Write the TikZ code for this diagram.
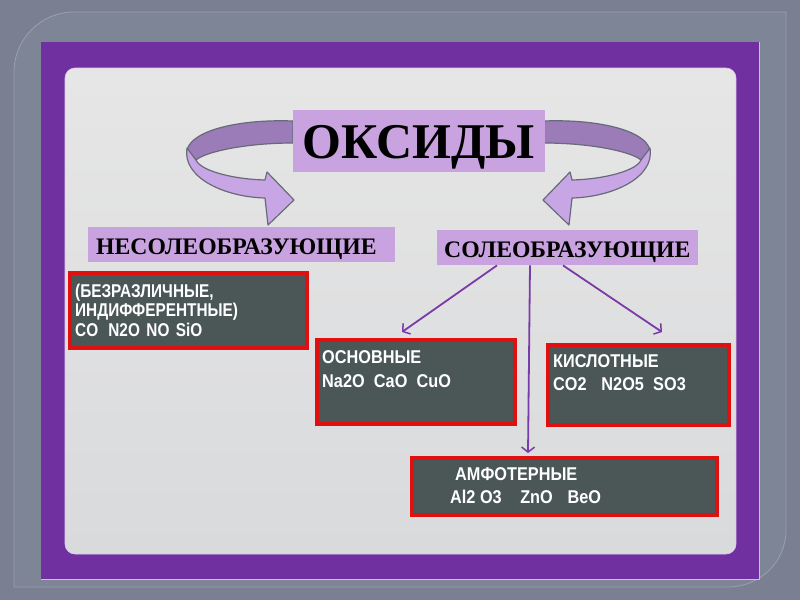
\documentclass[tikz,border=0pt]{standalone}
\usepackage{fontspec}
\setmainfont{Liberation Serif}
\setsansfont{Liberation Sans}
\usetikzlibrary{arrows.meta}
\definecolor{bggray}{HTML}{7A8091}
\definecolor{framegray}{HTML}{7E8596}
\definecolor{frameline}{HTML}{9AA0AE}
\definecolor{violetframe}{HTML}{7030A0}
\definecolor{paneltop}{HTML}{E6E6E6}
\definecolor{panelbot}{HTML}{D9DADC}
\definecolor{lavender}{HTML}{C9A2E0}
\definecolor{banddark}{HTML}{9C7CB8}
\definecolor{bandlight}{HTML}{C8A6E6}
\definecolor{bandline}{HTML}{676A78}
\definecolor{slate}{HTML}{4B5757}
\definecolor{redline}{HTML}{E01010}
\definecolor{connviolet}{HTML}{7A3AA8}
\tikzset{
  titlebox/.style={fill=lavender, inner sep=0pt, anchor=north west},
  catbox/.style={fill=lavender, inner sep=0pt, anchor=north west},
  darkbox/.style={fill=slate, draw=redline, line width=3.8pt, inner sep=0pt, anchor=north west},
  whitetxt/.style={text=white, font=\sffamily\bfseries\fontsize{18.5}{20}\selectfont\addfontfeature{FakeStretch=0.88}, anchor=base west, inner sep=0pt},
  whitenarrow/.style={text=white, font=\sffamily\bfseries\fontsize{18.5}{20}\selectfont\addfontfeature{FakeStretch=0.83}, anchor=base west, inner sep=0pt},
  cattxt/.style={text=black, font=\bfseries\fontsize{23.7}{24}\selectfont, anchor=base west, inner sep=0pt},
  conn/.style={draw=connviolet, line width=1.8pt, -{Straight Barb[length=5pt,width=13pt,line width=1.5pt]}},
  bandback/.style={fill=banddark, draw=bandline, line width=1.2pt, line join=round},
  bandfront/.style={fill=bandlight, draw=bandline, line width=1.2pt, line join=round}
}
\newcommand{\curlarrow}{%
  \path[bandback] (293,121) .. controls (240,119) and (192,130) .. (187,150)
     -- (196,160) .. controls (205,152) and (245,143) .. (293,143) -- cycle;
  \path[bandfront] (187,148) .. controls (182,178) and (225,197) .. (265,198)
     -- (268,225) -- (294,200) -- (267,172) -- (265,180)
     .. controls (230,179) and (200,170) .. (196,160) -- cycle;
}
\begin{document}
\begin{tikzpicture}[x=1pt,y=-1pt]
\useasboundingbox (0,0) rectangle (800,600);
\fill[bggray] (0,0) rectangle (800,600);
\filldraw[fill=framegray, draw=frameline, line width=0.8pt]
  (14,587) -- (14,72) .. controls (14,39) and (41,12) .. (74,12) -- (786,12)
  -- (786,530) .. controls (786,562) and (760,587) .. (728,587) -- cycle;
\fill[violetframe] (41,42) rectangle (759,579);
\draw[frameline!60!white, line width=0.8pt] (41,579) -- (759,579) -- (759,42);
\shade[top color=paneltop, bottom color=panelbot, rounded corners=10pt]
  (65,68) rectangle (736,554);
\draw[rounded corners=10pt, draw=lavender!60!white, line width=0.6pt] (65,68) rectangle (736,554);

% curled arrows
\curlarrow
\begin{scope}[shift={(837,0)}, xscale=-1]
\curlarrow
\end{scope}

% title
\node[titlebox, minimum width=252pt, minimum height=62pt] (title) at (293,110) {};
\node[text=black, font=\bfseries\fontsize{50}{50}\selectfont, anchor=base west, inner sep=0pt] (titletxt) at (302,158) {ОКСИДЫ};

% categories
\node[catbox, minimum width=307pt, minimum height=35pt] (nesole) at (88,227) {};
\node[cattxt] (nesoletxt) at (96,254) {НЕСОЛЕОБРАЗУЮЩИЕ};
\node[catbox, minimum width=261pt, minimum height=35pt] (sole) at (437,230) {};
\node[cattxt] (soletxt) at (444,257) {СОЛЕОБРАЗУЮЩИЕ};

% dark boxes
\node[darkbox, minimum width=237pt, minimum height=75pt] (indiff) at (68,271) {};
\node[whitenarrow] (indiff1) at (75,297) {(БЕЗРАЗЛИЧНЫЕ,};
\node[whitenarrow] (indiff2) at (75,316.5) {ИНДИФФЕРЕНТНЫЕ)};
\node[whitenarrow] (indiff3) at (75,336.5) {CO\hspace{0.55em}N2O\hspace{0.35em}NO\hspace{0.35em}SiO};

\node[darkbox, minimum width=198pt, minimum height=84pt] (osn) at (315,338) {};
\node[whitetxt] (osn1) at (322,363) {ОСНОВНЫЕ};
\node[whitetxt] (osn2) at (322,387) {Na2O\hspace{0.5em}CaO\hspace{0.5em}CuO};

\node[darkbox, minimum width=181pt, minimum height=80pt] (kisl) at (546,343) {};
\node[whitetxt] (kisl1) at (553,367) {КИСЛОТНЫЕ};
\node[whitetxt] (kisl2) at (553,390) {CO2\hspace{0.8em}N2O5\hspace{0.5em}SO3};

\node[darkbox, minimum width=305pt, minimum height=57pt] (amf) at (410,456) {};
\node[whitetxt] (amf1) at (455,480) {АМФОТЕРНЫЕ};
\node[whitetxt] (amf2) at (450,503) {Al2 O3\hspace{1em}ZnO\hspace{0.8em}BeO};

% connectors
\draw[conn] ([xshift=60pt]sole.south west) -- ([xshift=87pt,yshift=6pt]osn.north west);
\draw[conn] ([xshift=126pt]sole.south west) -- ([xshift=116pt,yshift=11pt]kisl.north west);
\draw[conn] ([xshift=93pt]sole.south west) -- ([xshift=118pt,yshift=3pt]amf.north west);
\end{tikzpicture}
\end{document}
